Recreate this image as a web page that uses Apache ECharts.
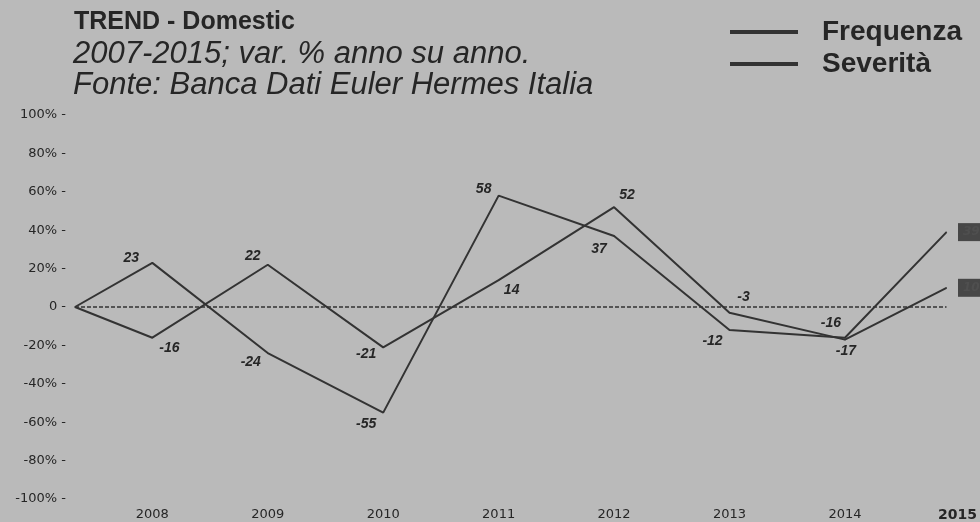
<!DOCTYPE html>
<html><head><meta charset="utf-8">
<script src="https://cdn.jsdelivr.net/npm/echarts@6/dist/echarts.min.js"></script>
<style>html,body{margin:0;padding:0;background:#bababa}#c{width:980px;height:522px}</style>
</head><body><div id="c"></div>
<script>
// ---- data ----
const years = [2008, 2009, 2010, 2011, 2012, 2013, 2014, 2015];
const frequenza = [23, -24, -55, 58, 37, -12, -16, 39];
const severita  = [-16, 22, -21, 14, 52, -3, -17, 10];
const baseValue = 0;            // 2007 base
const xStart = 2007.33;         // where the 2007 base sits on the time axis
const xEnd = 2014.88;           // where the 2015 value sits on the time axis
const yMin = -100, yMax = 100, yStep = 20;

// ---- label placement (style only) ----
const freqLabelOffset = [[-21,-5],[-17,9],[-17,12],[-15,-6],[-15,13],[-17,11],[-14,-15]];
const sevLabelOffset  = [[17,10],[-15,-9],[-17,7],[13,10],[13,-12],[14,-16],[1,12]];

const ink = '#262626';
const xs = [xStart].concat(years.slice(0, -1), [xEnd]);

function build(values, offsets) {
  const all = [baseValue].concat(values);
  return all.map((v, i) => {
    const item = { value: [xs[i], v] };
    if (i === 0) {
      item.label = { show: false };
    } else if (i === all.length - 1) {
      item.label = {
        show: true, position: 'right', distance: 11,
        backgroundColor: '#474747', color: '#4f4f4f',
        fontFamily: 'DejaVu Sans', fontSize: 12, padding: [3, 5],
        formatter: p => String(p.value[1])
      };
    } else {
      item.label = { show: true, position: 'inside', offset: offsets[i - 1] };
    }
    return item;
  });
}

const labelStyle = {
  show: true,
  fontFamily: 'Liberation Sans', fontStyle: 'italic', fontWeight: 'bold',
  fontSize: 14, color: ink,
  formatter: p => String(p.value[1])
};

const chart = echarts.init(document.getElementById('c'), null, { renderer: 'canvas' });
chart.setOption({
  backgroundColor: '#bababa',
  animation: false,
  title: [
    { text: 'TREND - Domestic', left: 74, top: 10, padding: 0,
      textStyle: { fontFamily: 'Liberation Sans', fontWeight: 'bold', fontSize: 25, lineHeight: 25, color: ink } },
    { text: '2007-2015; var. % anno su anno.\nFonte: Banca Dati Euler Hermes Italia', left: 73, top: 39, padding: 0,
      textStyle: { fontFamily: 'Liberation Sans', fontStyle: 'italic', fontWeight: 'normal', fontSize: 31, lineHeight: 31, color: ink } }
  ],
  legend: {
    data: ['Frequenza', 'Severità'],
    orient: 'vertical', left: 730, top: 18, padding: 0, itemGap: 4,
    icon: 'rect', itemWidth: 68, itemHeight: 4,
    selectedMode: false,
    textStyle: { fontFamily: 'Liberation Sans', fontWeight: 'bold', fontSize: 28, lineHeight: 28, color: ink, padding: [0, 0, 0, 19] }
  },
  grid: { left: 75, right: 29, top: 115, bottom: 23, containLabel: false },
  xAxis: {
    type: 'value', min: xStart, max: xEnd,
    axisLine: { show: false }, axisTick: { show: false }, splitLine: { show: false },
    axisLabel: {
      customValues: years.slice(0, -1).concat([xEnd]),
      margin: 9, fontFamily: 'DejaVu Sans', fontSize: 13, color: ink,
      formatter: v => v >= xEnd ? '{b|2015}' : String(Math.round(v)),
      rich: { b: { fontFamily: 'DejaVu Sans', fontWeight: 'bold', fontSize: 14, color: ink, padding: [0, 0, 0, 22] } }
    }
  },
  yAxis: {
    type: 'value', min: yMin, max: yMax, interval: yStep,
    axisLine: { show: false }, axisTick: { show: false }, splitLine: { show: false },
    axisLabel: {
      margin: 9, fontFamily: 'DejaVu Sans', fontSize: 13, color: ink,
      formatter: v => v === 0 ? '0 -' : v + '% -'
    }
  },
  series: [
    {
      name: 'Frequenza', type: 'line', data: build(frequenza, freqLabelOffset),
      symbol: 'circle', symbolSize: 1, showSymbol: true,
      lineStyle: { color: '#333', width: 2 }, itemStyle: { color: '#333' },
      label: labelStyle, emphasis: { disabled: true },
      markLine: {
        silent: true, symbol: 'none', label: { show: false },
        lineStyle: { type: [4, 2], color: '#333', width: 1.5 },
        data: [{ yAxis: 0 }]
      }
    },
    {
      name: 'Severità', type: 'line', data: build(severita, sevLabelOffset),
      symbol: 'circle', symbolSize: 1, showSymbol: true,
      lineStyle: { color: '#333', width: 2 }, itemStyle: { color: '#333' },
      label: labelStyle, emphasis: { disabled: true }
    }
  ]
});
</script>
</body></html>
